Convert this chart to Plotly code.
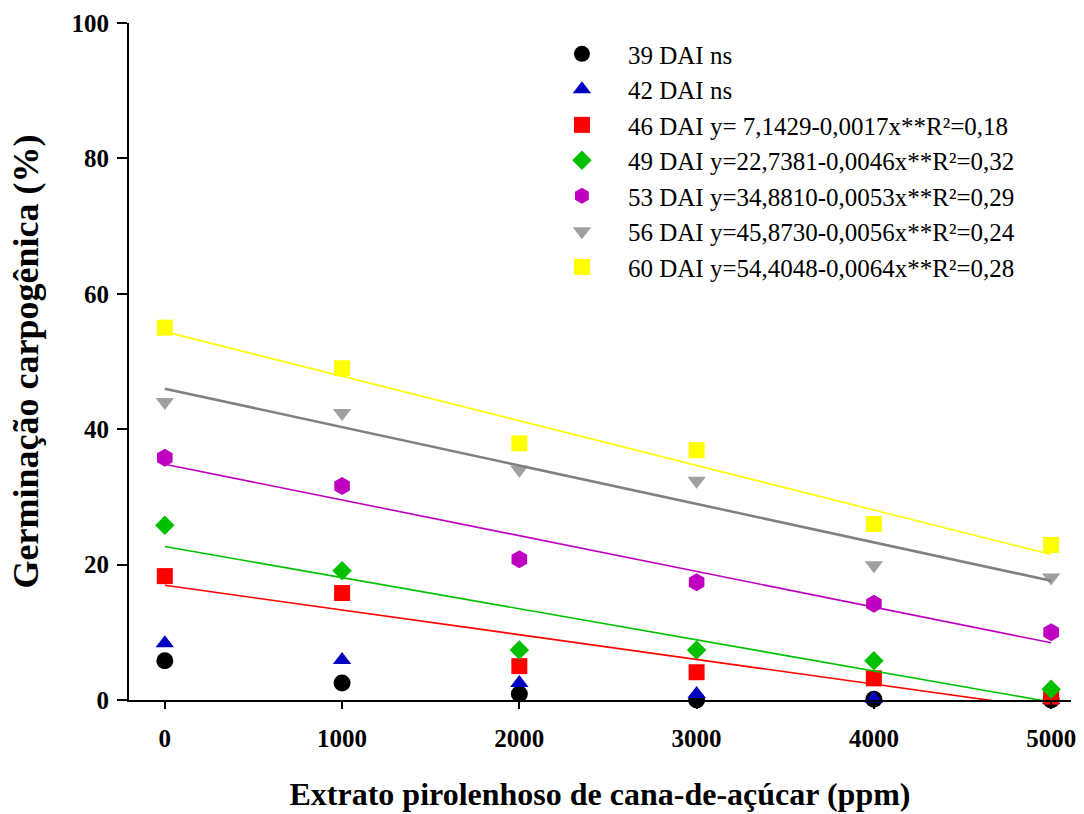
import numpy as np
import plotly.graph_objects as go

# Doses of sugarcane pyroligneous extract (ppm)
doses = [0, 1000, 2000, 3000, 4000, 5000]

# Carpogenic germination (%) at each evaluation date
dai_39 = [5.8, 2.5, 0.9, 0.0, 0.1, 0.0]
dai_42 = [8.4, 5.9, 2.5, 0.9, 0.2, 0.0]
dai_46 = [18.3, 15.8, 5.0, 4.1, 3.2, 0.5]
dai_49 = [25.8, 19.1, 7.4, 7.4, 5.8, 1.6]
dai_53 = [35.8, 31.6, 20.8, 17.4, 14.2, 10.0]
dai_56 = [44.0, 42.4, 34.0, 32.4, 19.9, 18.1]
dai_60 = [55.0, 49.0, 37.9, 36.9, 26.0, 22.9]

series_names = [
    "39 DAI ns",
    "42 DAI ns",
    "46 DAI y= 7,1429-0,0017x**R²=0,18",
    "49 DAI y=22,7381-0,0046x**R²=0,32",
    "53 DAI y=34,8810-0,0053x**R²=0,29",
    "56 DAI y=45,8730-0,0056x**R²=0,24",
    "60 DAI y=54,4048-0,0064x**R²=0,28",
]
series_values = [dai_39, dai_42, dai_46, dai_49, dai_53, dai_56, dai_60]
marker_symbols = ["circle", "triangle-up", "square", "diamond", "hexagon",
                  "triangle-down", "square"]
marker_sizes = [17, 16, 16, 15, 18, 16, 16]
marker_colors = ["#000000", "#0000C0", "#FF0000", "#00C000", "#C000C0",
                 "#A0A0A0", "#FFFF00"]
# Series with a significant linear regression (index, line colour, width)
fitted = [(2, "#FF0000", 1.6), (3, "#00C000", 1.6), (4, "#C000C0", 1.6),
          (5, "#808080", 2.6), (6, "#FFFF00", 1.6)]

SERIF = "Liberation Serif, Times New Roman, serif"

fig = go.Figure()

for name, vals, sym, size, col in zip(series_names, series_values,
                                       marker_symbols, marker_sizes,
                                       marker_colors):
    fig.add_trace(go.Scatter(
        x=doses, y=vals, mode="markers", name=name,
        marker=dict(symbol=sym, size=size, color=col, line=dict(width=0)),
        cliponaxis=False,
    ))

# Least-squares regression lines over the dose range
x_fit = np.array([min(doses), max(doses)], dtype=float)
for idx, col, width in fitted:
    slope, intercept = np.polyfit(doses, series_values[idx], 1)
    fig.add_trace(go.Scatter(
        x=x_fit, y=intercept + slope * x_fit, mode="lines",
        line=dict(color=col, width=width), showlegend=False,
        hoverinfo="skip",
    ))

fig.update_layout(
    width=1084, height=814,
    margin=dict(l=129, r=8, t=23, b=113),
    paper_bgcolor="white", plot_bgcolor="white",
    font=dict(family=SERIF, color="black"),
    legend=dict(
        x=0.432, y=0.988, xanchor="left", yanchor="top",
        font=dict(family=SERIF, size=25, color="black"),
        itemwidth=82, bgcolor="rgba(0,0,0,0)", tracegroupgap=0,
    ),
    xaxis=dict(
        range=[-202, 5112], tickvals=doses,
        showline=True, linecolor="black", linewidth=2,
        ticks="outside", ticklen=7, tickwidth=2, tickcolor="black",
        showgrid=False, zeroline=False,
        tickfont=dict(family=SERIF, size=25, weight="bold"),
        ticklabelstandoff=8,
        title=dict(text="Extrato pirolenhoso de cana-de-açúcar (ppm)",
                   font=dict(family=SERIF, size=32, weight="bold"),
                   standoff=32),
    ),
    yaxis=dict(
        range=[0, 100], tickvals=[0, 20, 40, 60, 80, 100],
        showline=True, linecolor="black", linewidth=2,
        ticks="outside", ticklen=10, tickwidth=2, tickcolor="black",
        showgrid=False, zeroline=False,
        tickfont=dict(family=SERIF, size=25, weight="bold"),
        ticklabelstandoff=3,
        title=dict(text="Germinação carpogênica (%)",
                   font=dict(family=SERIF, size=36, weight="bold"),
                   standoff=22),
    ),
)

fig.write_html("out.html")
